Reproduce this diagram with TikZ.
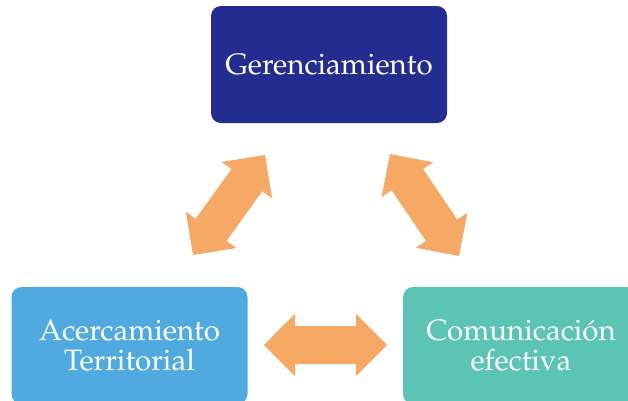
\documentclass[tikz,border=0pt]{standalone}
\usepackage[T1]{fontenc}
\usepackage{mathpazo}
\usetikzlibrary{positioning,arrows.meta}

\definecolor{gerblue}{RGB}{35,45,143}
\definecolor{terrblue}{RGB}{80,170,224}
\definecolor{comteal}{RGB}{92,196,180}
\definecolor{linkorange}{RGB}{245,169,100}

\begin{document}
\begin{tikzpicture}
[x=1pt,y=-1pt,on grid,
 every node/.style={font=\fontsize{29.5}{30}\selectfont,text=white,align=center},
 box/.style={rounded corners=10pt,minimum width=236pt,minimum height=117pt,inner sep=0pt},
 link/.style={linkorange,line width=38pt,
   {Triangle[length=31pt,width=62pt,line width=1pt]}-{Triangle[length=31pt,width=62pt,line width=1pt]}}]

\useasboundingbox (0,0) rectangle (628,400);

\node [box,fill=gerblue] (ger) at (329,64.5) {Gerenciamiento};
\node [box,fill=terrblue] (terr) [below left=281pt and 199.5pt of ger] {Acercamiento\\Territorial};
\node [box,fill=comteal] (com) [below right=281pt and 192pt of ger] {Comunicaci\'on\\efectiva};

% ends of the double arrows
\coordinate (l1) at (193,255);
\coordinate (l2) at (265,155);
\coordinate (r1) at (390,154);
\coordinate (r2) at (459,256);
\coordinate (h1) at (264,345);
\coordinate (h2) at (387,345);

\draw [link] (l1) -- (l2);
\draw [link] (r1) -- (r2);
\draw [link] (h1) -- (h2);
\end{tikzpicture}
\end{document}
